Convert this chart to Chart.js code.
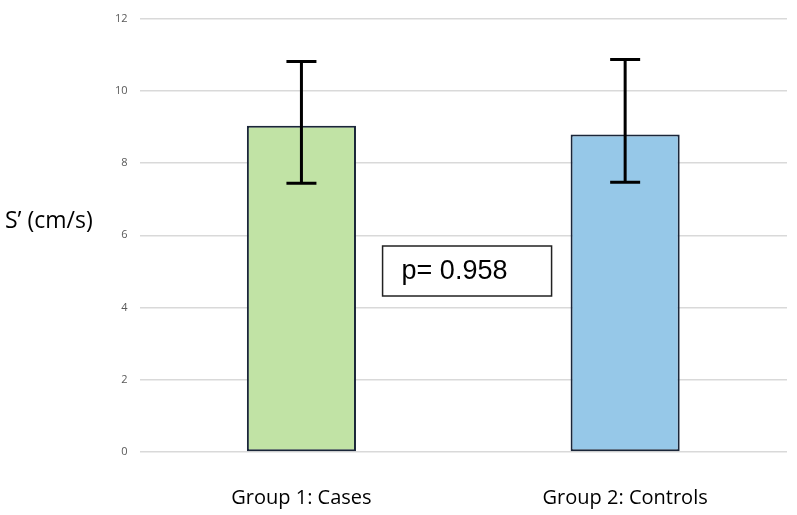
<!DOCTYPE html>
<html>
<head>
<meta charset="utf-8">
<script src="https://cdn.jsdelivr.net/npm/chart.js@4/dist/chart.umd.min.js"></script>
<style>
  body { margin: 0; background: #fff; }
  #wrap { width: 797px; height: 515px; position: relative; }
</style>
</head>
<body>
<div id="wrap"><canvas id="myChart"></canvas></div>
<script>
const groups = ['Group 1: Cases', 'Group 2: Controls'];
const means = [9.03, 8.79];
const errLow = [7.44, 7.47];
const errHigh = [10.81, 10.87];
const barColors = ['#c1e3a5', '#96c8e8'];
const pText = 'p= 0.958';

// error bars drawn on top of the bars
const errorBars = {
    id: 'errorBars',
    afterDatasetsDraw(chart) {
        const ctx = chart.ctx;
        const meta = chart.getDatasetMeta(0);
        const y = chart.scales.y;
        ctx.save();
        ctx.strokeStyle = '#000';
        ctx.lineWidth = 3;
        meta.data.forEach((bar, i) => {
            const x = bar.x;
            const top = y.getPixelForValue(errHigh[i]);
            const bot = y.getPixelForValue(errLow[i]);
            ctx.beginPath();
            ctx.moveTo(x, top); ctx.lineTo(x, bot);
            ctx.moveTo(x - 15, top); ctx.lineTo(x + 15, top);
            ctx.moveTo(x - 15, bot); ctx.lineTo(x + 15, bot);
            ctx.stroke();
        });
        ctx.restore();
    }
};

// y title (horizontal) and p-value box
const extras = {
    id: 'extras',
    afterDraw(chart) {
        const ctx = chart.ctx;
        const area = chart.chartArea;
        ctx.save();
        ctx.fillStyle = '#000';
        ctx.font = '23px "Open Sans"';
        ctx.textBaseline = 'middle';
        ctx.textAlign = 'left';
        ctx.fillText('S\u2019 (cm/s)', 5, 221);

        const bx = area.left + 243, by = 246, bw = 169, bh = 50;
        ctx.fillStyle = '#fff';
        ctx.fillRect(bx, by, bw, bh);
        ctx.strokeStyle = '#222';
        ctx.lineWidth = 1.5;
        ctx.strokeRect(bx, by, bw, bh);
        ctx.fillStyle = '#000';
        ctx.font = '27px "Liberation Sans"';
        ctx.fillText(pText, bx + 19, by + bh / 2 + 1);
        ctx.restore();
    }
};

const ctx = document.getElementById('myChart').getContext('2d');
const myChart = new Chart(ctx, {
    type: 'bar',
    data: {
        labels: groups,
        datasets: [{
            data: means,
            backgroundColor: barColors,
            borderColor: '#1a2639',
            borderWidth: 2,
            borderSkipped: false,
            categoryPercentage: 1,
            barPercentage: 0.337
        }]
    },
    options: {
        responsive: true,
        maintainAspectRatio: false,
        animation: false,
        layout: { padding: { top: 14, left: 103, right: 10, bottom: 0 } },
        plugins: {
            legend: { display: false },
            tooltip: { enabled: false }
        },
        scales: {
            x: {
                grid: { display: false },
                border: { display: false },
                afterFit(scale) { scale.height = 63; },
                ticks: {
                    color: '#000',
                    padding: 26,
                    maxRotation: 0,
                    font: { family: 'Open Sans', size: 20 }
                }
            },
            y: {
                min: 0,
                max: 12,
                border: { display: false },
                grid: { color: '#d9d9d9', lineWidth: 1.5, drawTicks: false },
                ticks: {
                    stepSize: 2,
                    color: '#595959',
                    padding: 12,
                    font: { family: 'Open Sans', size: 11 }
                }
            }
        }
    },
    plugins: [errorBars, extras]
});
</script>
</body>
</html>
